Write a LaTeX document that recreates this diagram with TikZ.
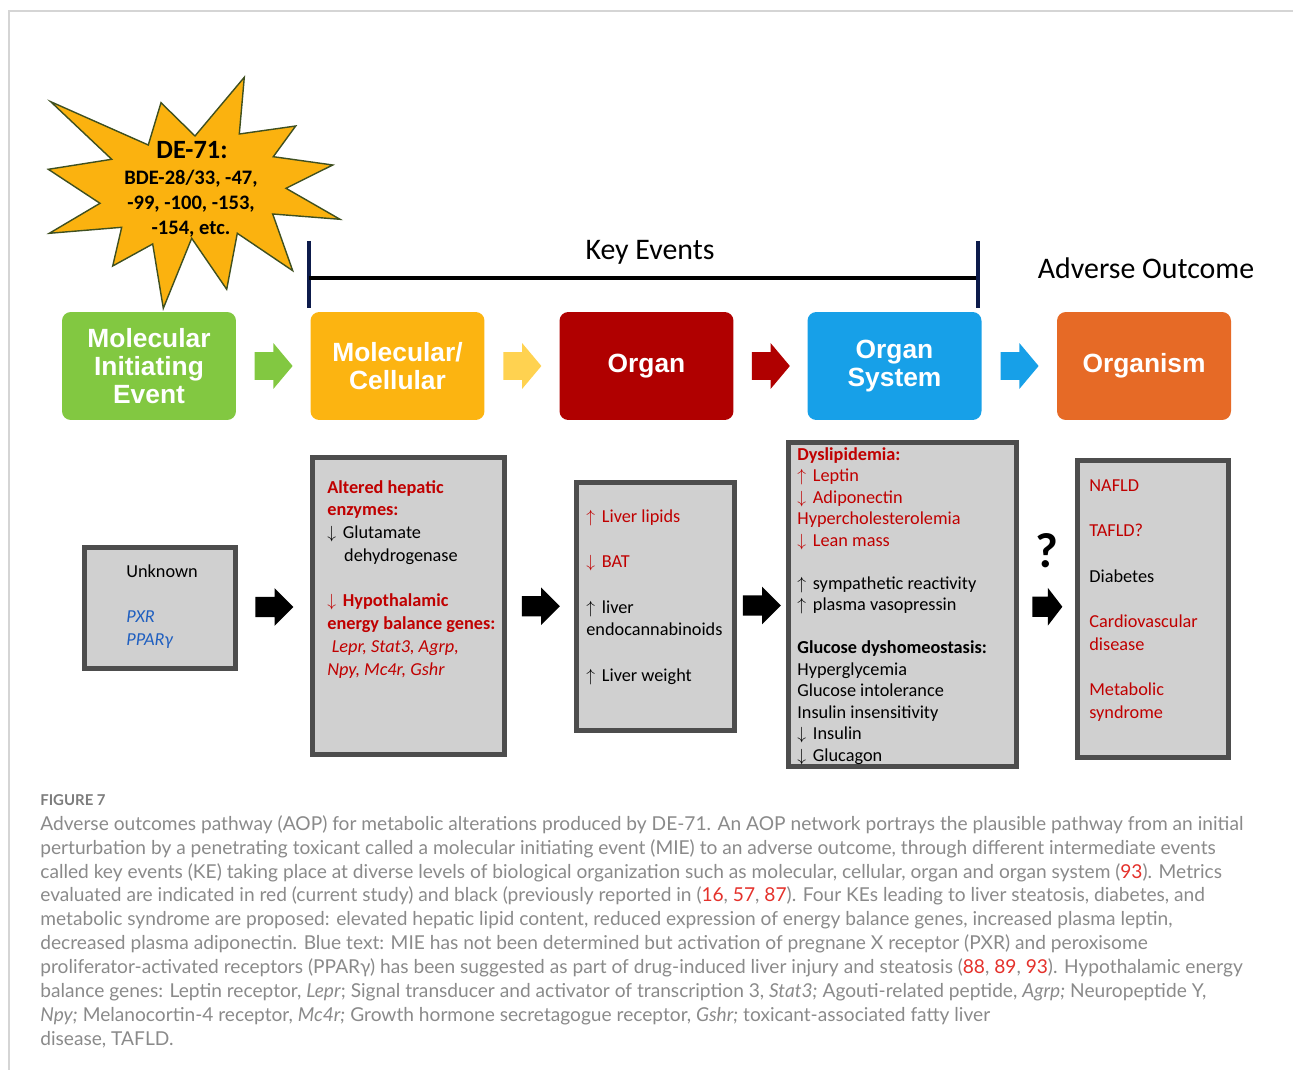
\documentclass[tikz,border=0pt]{standalone}
\usepackage{fontspec}
\setmainfont{Carlito}
\newfontfamily\arialfont{Liberation Sans}
\newfontfamily\capfont{Lato}
\usetikzlibrary{shapes.arrows,calc}

\definecolor{mieGreen}{HTML}{82C841}
\definecolor{mcOrange}{HTML}{FCB411}
\definecolor{organRed}{HTML}{B00000}
\definecolor{sysBlue}{HTML}{17A0E8}
\definecolor{orgOrange}{HTML}{E66A26}
\definecolor{lightYellow}{HTML}{FFD250}
\definecolor{starfill}{HTML}{FBB20F}
\definecolor{starline}{HTML}{3F5020}
\definecolor{navyline}{HTML}{0D1B4B}
\definecolor{boxfill}{HTML}{D0D0D0}
\definecolor{boxline}{HTML}{4D4D4D}
\definecolor{keyred}{HTML}{C00000}
\definecolor{keyblue}{HTML}{1F5FC0}
\definecolor{capgray}{HTML}{8A8A8A}
\definecolor{capred}{HTML}{E4312B}
\definecolor{framegray}{HTML}{D5D5D5}

\newcommand{\kr}[1]{\textcolor{keyred}{#1}}
\newcommand{\cref}[1]{\textcolor{capred}{#1}}
\newcommand{\upa}{$\uparrow$\hspace{1.5pt} }
\newcommand{\dna}{$\downarrow$\hspace{1.5pt} }

\tikzset{
  level/.style={rounded corners=5pt, minimum width=3.48cm, minimum height=2.16cm,
    inner sep=0pt, text=white, align=center,
    font=\arialfont\bfseries\fontsize{15}{16}\selectfont},
  toparrow/.style={single arrow, anchor=tail, xshift=-0.38cm, inner xsep=0pt,
    inner ysep=0.27cm, minimum height=0.76cm,
    single arrow head extend=0.18cm, single arrow tip angle=100},
  blackarrow/.style={single arrow, fill=black, anchor=tail, xshift=-0.38cm, inner xsep=0pt,
    inner ysep=0.195cm, minimum height=0.76cm,
    single arrow head extend=0.175cm, single arrow tip angle=90},
  kebox/.style={draw=boxline, fill=boxfill, line width=2.8pt, inner sep=0pt},
  kelist/.style={anchor=north west, inner sep=0pt, align=left,
    font=\fontsize{10.4}{12.95}\selectfont}
}

\begin{document}
\begin{tikzpicture}[x=0.02cm, y=-0.02cm]
  \useasboundingbox (0,0) rectangle (1293,1070);
  \draw[framegray, line width=1pt] (9,1070) -- (9,11) -- (1293,11);

  % toxicant burst
  \draw[fill=starfill, draw=starline, line width=0.8pt]
    (50.7,101.7) -- (148.3,145) -- (161,102.7) -- (195,136) -- (244.3,77.3)
    -- (239.3,134) -- (295.7,126) -- (273.3,156.7) -- (332.7,165) -- (286,188.3)
    -- (340,219.3) -- (272.7,214) -- (292.7,270.7) -- (237.3,233.3) -- (226.7,289.3)
    -- (191.7,238.3) -- (163.3,308.3) -- (152.7,244) -- (112.7,266) -- (121.7,227.3)
    -- (49.3,233.3) -- (100,203.3) -- (48.3,169.3) -- (111.7,159.3) -- cycle;
  \node[font=\bfseries\fontsize{15}{17}\selectfont] (de) at (192,150) {DE-71:};
  \node[anchor=north, align=center, inner sep=0pt,
    font=\bfseries\fontsize{11.7}{14.2}\selectfont] (bde) at (191,170)
    {BDE-28/33, -47,\\ -99, -100, -153,\\ -154, etc.};

  % key events bracket
  \draw[navyline, line width=2.3pt] (309,241) -- (309,308);
  \draw[line width=2.3pt] (309,278) -- (978,278);
  \draw[navyline, line width=2.3pt] (978,241) -- (978,308);
  \node[font=\fontsize{17}{20}\selectfont] (ke) at (650,252) {Key Events};
  \node[font=\fontsize{17}{20}\selectfont] (ao) at (1146,268) {Adverse Outcome};

  % levels of organization
  \node[level, fill=mieGreen] (mie) at (149,366) {Molecular\\ Initiating\\ Event};
  \node[level, fill=mcOrange] (mc) at (397.5,366) {Molecular/\\ Cellular};
  \node[level, fill=organRed] (organ) at (646.5,366) {Organ};
  \node[level, fill=sysBlue] (sys) at (894.5,366) {Organ\\ System};
  \node[level, fill=orgOrange] (orgm) at (1144,366) {Organism};

  \node[toparrow, fill=mieGreen] (a1) at ($(mie.east)!0.5!(mc.west)$) {};
  \node[toparrow, fill=lightYellow] (a2) at ($(mc.east)!0.5!(organ.west)$) {};
  \node[toparrow, fill=organRed] (a3) at ($(organ.east)!0.5!(sys.west)$) {};
  \node[toparrow, fill=sysBlue] (a4) at ($(sys.east)!0.5!(orgm.west)$) {};

  % key event boxes
  \node[kebox, minimum width=3.02cm, minimum height=2.42cm] (kmie) at (160,608) {};
  \node[kebox, minimum width=3.84cm, minimum height=5.94cm] (kmc) at (408.5,606) {};
  \node[kebox, minimum width=3.16cm, minimum height=4.96cm] (korgan) at (655.5,606.5) {};
  \node[kebox, minimum width=4.56cm, minimum height=6.48cm] (ksys) at (902.5,604.5) {};
  \node[kebox, minimum width=3.02cm, minimum height=5.94cm] (korgm) at (1153,609) {};

  \node[kelist] (tmie) at (126,564)
    {Unknown\\[12.95pt] \textcolor{keyblue}{\itshape PXR}\\ \textcolor{keyblue}{\itshape PPARγ}};
  \node[kelist] (tmc) at (327,480)
    {\kr{\bfseries Altered hepatic}\\ \kr{\bfseries enzymes:}\\
     \dna Glutamate\\ \hspace*{9.6pt}dehydrogenase\\[12.95pt]
     \kr{\bfseries \dna Hypothalamic}\\ \kr{\bfseries energy balance genes:}\\
     \kr{\itshape \hspace*{2.5pt}Lepr, Stat3, Agrp,}\\ \kr{\itshape Npy, Mc4r, Gshr}};
  \node[kelist] (torgan) at (586,509)
    {\kr{\upa Liver lipids}\\[12.95pt] \kr{\dna BAT}\\[12.95pt]
     \upa liver\\ endocannabinoids\\[12.95pt] \upa Liver weight};
  \node[kelist, font=\fontsize{10.4}{12.25}\selectfont] (tsys) at (797,447)
    {\kr{\bfseries Dyslipidemia:}\\ \kr{\upa Leptin}\\ \kr{\dna Adiponectin}\\
     \kr{Hypercholesterolemia}\\ \kr{\dna Lean mass}\\[12.25pt]
     \upa sympathetic reactivity\\ \upa plasma vasopressin\\[12.25pt]
     \textbf{Glucose dyshomeostasis:}\\ Hyperglycemia\\ Glucose intolerance\\
     Insulin insensitivity\\ \dna Insulin\\ \dna Glucagon};
  \node[kelist] (torgm) at (1089,479)
    {\kr{NAFLD}\\[12.95pt] \kr{TAFLD?}\\[12.95pt] Diabetes\\[12.95pt]
     \kr{Cardiovascular}\\ \kr{disease}\\[12.95pt] \kr{Metabolic}\\ \kr{syndrome}};

  \node[blackarrow] (b1) at ($(kmie.east)!0.5!(kmc.west)$) {};
  \node[blackarrow] (b2) at ($(kmc.east)!0.5!(korgan.west)$) {};
  \node[blackarrow] (b3) at ($(korgan.east)!0.5!(ksys.west)$) {};
  \node[blackarrow, minimum height=0.6cm, xshift=0.08cm, single arrow tip angle=105] (b4)
    at ($(ksys.east)!0.5!(korgm.west)$) {};
  \node[font=\bfseries\fontsize{28}{30}\selectfont] (q) at (1047,551) {?};

  % caption
  \node[anchor=west, inner sep=0pt, text=capgray!90!black,
    font=\capfont\bfseries\fontsize{8.5}{10}\selectfont] (fig) at (40,800) {FIGURE 7};
  \node[anchor=north west, inner sep=0pt, align=left, text=capgray,
    font=\capfont\fontsize{10.9}{13.6}\selectfont] (cap) at (40,815)
    {Adverse outcomes pathway (AOP) for metabolic alterations produced by DE-71. An AOP network portrays the plausible pathway from an initial\\
     perturbation by a penetrating toxicant called a molecular initiating event (MIE) to an adverse outcome, through different intermediate events\\
     called key events (KE) taking place at diverse levels of biological organization such as molecular, cellular, organ and organ system (\cref{93}). Metrics\\
     evaluated are indicated in red (current study) and black (previously reported in (\cref{16}, \cref{57}, \cref{87}). Four KEs leading to liver steatosis, diabetes, and\\
     metabolic syndrome are proposed: elevated hepatic lipid content, reduced expression of energy balance genes, increased plasma leptin,\\
     decreased plasma adiponectin. Blue text: MIE has not been determined but activation of pregnane X receptor (PXR) and peroxisome\\
     proliferator-activated receptors (PPARγ) has been suggested as part of drug-induced liver injury and steatosis (\cref{88}, \cref{89}, \cref{93}). Hypothalamic energy\\
     balance genes: Leptin receptor, \textit{Lepr}; Signal transducer and activator of transcription 3, \textit{Stat3;} Agouti-related peptide, \textit{Agrp;} Neuropeptide Y,\\
     \textit{Npy;} Melanocortin-4 receptor, \textit{Mc4r;} Growth hormone secretagogue receptor, \textit{Gshr;} toxicant-associated fatty liver\\
     disease, TAFLD.};
\end{tikzpicture}
\end{document}
